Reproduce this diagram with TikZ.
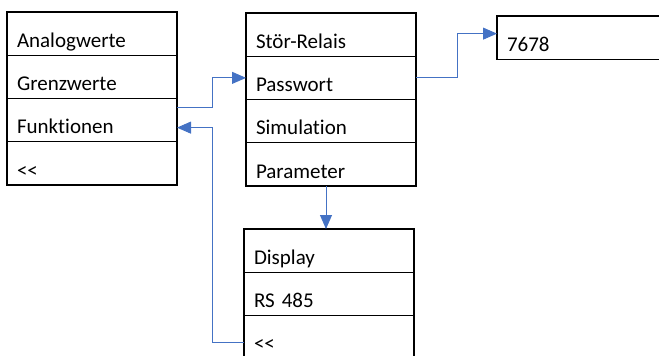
\documentclass[tikz,border=0pt]{standalone}
\usepackage{fontspec}
\setmainfont{Carlito}[Ligatures={NoCommon}]
\usepackage{tikz}
\usetikzlibrary{arrows.meta, positioning}
\definecolor{link}{RGB}{68, 114, 196}

\begin{document}
\begin{tikzpicture}[
    x=1pt, y=-1pt,
    node distance=0pt,
    row/.style={rectangle, draw=black, line width=1.3pt, outer sep=0pt, minimum width=170pt, minimum height=43.25pt, text width=150pt, inner xsep=10pt, inner ysep=4pt, text height=31.25pt, text depth=4pt, align=left, font=\fontsize{21}{25}\selectfont},
    arrow/.style={-{Triangle[length=14pt, width=12pt]}, draw=link, line width=0.9pt}
]
\useasboundingbox (0,0) rectangle (659,356);

% Hauptmenue
\node[row, anchor=north west] (analog) at (7,12) {Analogwerte};
\node[row, below=of analog] (limits) {Grenzwerte};
\node[row, below=of limits] (funcs) {Funktionen};
\node[row, below=of funcs] (back1) {{<}{<}};

% Funktionen
\node[row, anchor=north west] (relay) at (246,13) {Stör-Relais};
\node[row, below=of relay] (passwd) {Passwort};
\node[row, below=of passwd] (sim) {Simulation};
\node[row, below=of sim] (param) {Parameter};

% Passwort
\node[row, anchor=north west] (code) at (497,16) {7678};

% Parameter
\node[row, anchor=north west] (display) at (244,229) {Display};
\node[row, below=of display] (rs) {RS 485};
\node[row, below=of rs] (back2) {{<}{<}};

% Pfeile
\draw[arrow] ([yshift=12.5pt]funcs.east) -- ++(35,0) |- (passwd.west);
\draw[arrow] (passwd.east) -- ++(41,0) |- ([yshift=4pt]code.west);
\draw[arrow] ([xshift=-5pt]param.south) -- ([xshift=-5pt]param.south |- display.north);
\draw[arrow] ([yshift=-5.5pt]back2.west) -- ++(-32,0) |- ([yshift=-7.5pt]funcs.east);

\end{tikzpicture}
\end{document}
